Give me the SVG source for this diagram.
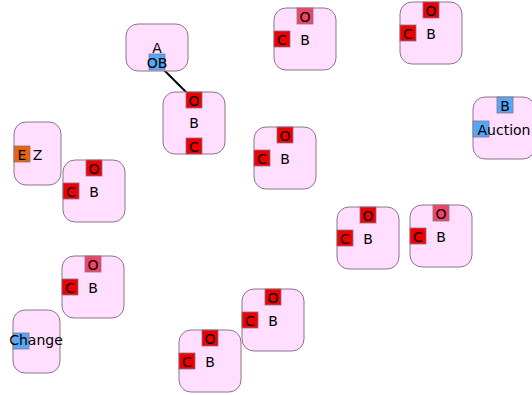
<svg xmlns="http://www.w3.org/2000/svg" width="532" height="395" viewBox="0 0 532 395">
<style>
.n{fill:#ffdeff;stroke:#8a748a;stroke-width:1}
.p{stroke:#8a748a;stroke-width:0.8}
.r{fill:#ee0000}
.k{fill:#ee4466}
.b{fill:#55a8f5}
.o{fill:#e8640c}
text{font-family:"DejaVu Sans",sans-serif;font-size:14px;fill:#000;text-anchor:middle}
.e{stroke:#000;stroke-width:2;fill:none}
</style>
<g id="connectors">
<line class="e" x1="164" y1="70" x2="187" y2="93"/>
</g>
<g id="nA">
<rect class="n" x="126" y="24" width="62" height="47" rx="12"/>
<text x="157" y="53">A</text>
<rect class="p b" x="149" y="54" width="16" height="16"/>
<text x="157" y="68">OB</text>
</g>
<g id="nB1">
<rect class="n" x="163" y="92" width="62" height="62" rx="12"/>
<rect class="p r" x="186" y="92" width="16" height="16"/>
<text x="194" y="106">O</text>
<text x="194" y="128">B</text>
<rect class="p r" x="186" y="138" width="16" height="16"/>
<text x="194" y="152">C</text>
</g>
<g id="nB2">
<rect class="n" x="274" y="8" width="62" height="62" rx="12"/>
<rect class="p k" x="297" y="8" width="16" height="16"/><text x="305" y="22">O</text>
<rect class="p r" x="274" y="31" width="16" height="16"/><text x="282" y="45">C</text>
<text x="305" y="45">B</text>
</g>
<g id="nB3">
<rect class="n" x="400" y="2" width="62" height="62" rx="12"/>
<rect class="p r" x="423" y="2" width="16" height="16"/><text x="431" y="16">O</text>
<rect class="p r" x="400" y="25" width="16" height="16"/><text x="408" y="39">C</text>
<text x="431" y="39">B</text>
</g>
<g id="nAuction">
<rect class="n" x="473" y="97" width="62" height="62" rx="12"/>
<rect class="p b" x="497" y="97" width="16" height="16"/><text x="505" y="111">B</text>
<rect class="p b" x="473" y="121" width="16" height="16"/>
<text x="504" y="135">Auction</text>
</g>
<g id="nZ">
<rect class="n" x="14" y="122" width="47" height="63" rx="12"/>
<rect class="p o" x="14" y="146" width="16" height="16"/><text x="22" y="160">E</text>
<text x="37.5" y="160">Z</text>
</g>
<g id="nB4">
<rect class="n" x="63" y="160" width="62" height="62" rx="12"/>
<rect class="p r" x="86" y="160" width="16" height="16"/><text x="94" y="174">O</text>
<rect class="p r" x="63" y="183" width="16" height="16"/><text x="71" y="197">C</text>
<text x="94" y="197">B</text>
</g>
<g id="nB5">
<rect class="n" x="254" y="127" width="62" height="62" rx="12"/>
<rect class="p r" x="277" y="127" width="16" height="16"/><text x="285" y="141">O</text>
<rect class="p r" x="254" y="150" width="16" height="16"/><text x="262" y="164">C</text>
<text x="285" y="164">B</text>
</g>
<g id="nB6">
<rect class="n" x="337" y="207" width="62" height="62" rx="12"/>
<rect class="p r" x="360" y="207" width="16" height="16"/><text x="368" y="221">O</text>
<rect class="p r" x="337" y="230" width="16" height="16"/><text x="345" y="244">C</text>
<text x="368" y="244">B</text>
</g>
<g id="nB7">
<rect class="n" x="410" y="205" width="62" height="62" rx="12"/>
<rect class="p k" x="433" y="205" width="16" height="16"/><text x="441" y="219">O</text>
<rect class="p r" x="410" y="228" width="16" height="16"/><text x="418" y="242">C</text>
<text x="441" y="242">B</text>
</g>
<g id="nB8">
<rect class="n" x="62" y="256" width="62" height="62" rx="12"/>
<rect class="p k" x="85" y="256" width="16" height="16"/><text x="93" y="270">O</text>
<rect class="p r" x="62" y="279" width="16" height="16"/><text x="70" y="293">C</text>
<text x="93" y="293">B</text>
</g>
<g id="nChange">
<rect class="n" x="13" y="310" width="47" height="63" rx="12"/>
<rect class="p b" x="13" y="333" width="16" height="16"/>
<text x="36" y="345">Change</text>
</g>
<g id="nB9">
<rect class="n" x="242" y="289" width="62" height="62" rx="12"/>
<rect class="p r" x="265" y="289" width="16" height="16"/><text x="273" y="303">O</text>
<rect class="p r" x="242" y="312" width="16" height="16"/><text x="250" y="326">C</text>
<text x="273" y="326">B</text>
</g>
<g id="nB10">
<rect class="n" x="179" y="330" width="62" height="62" rx="12"/>
<rect class="p r" x="202" y="330" width="16" height="16"/><text x="210" y="344">O</text>
<rect class="p r" x="179" y="353" width="16" height="16"/><text x="187" y="367">C</text>
<text x="210" y="367">B</text>
</g>
</svg>
